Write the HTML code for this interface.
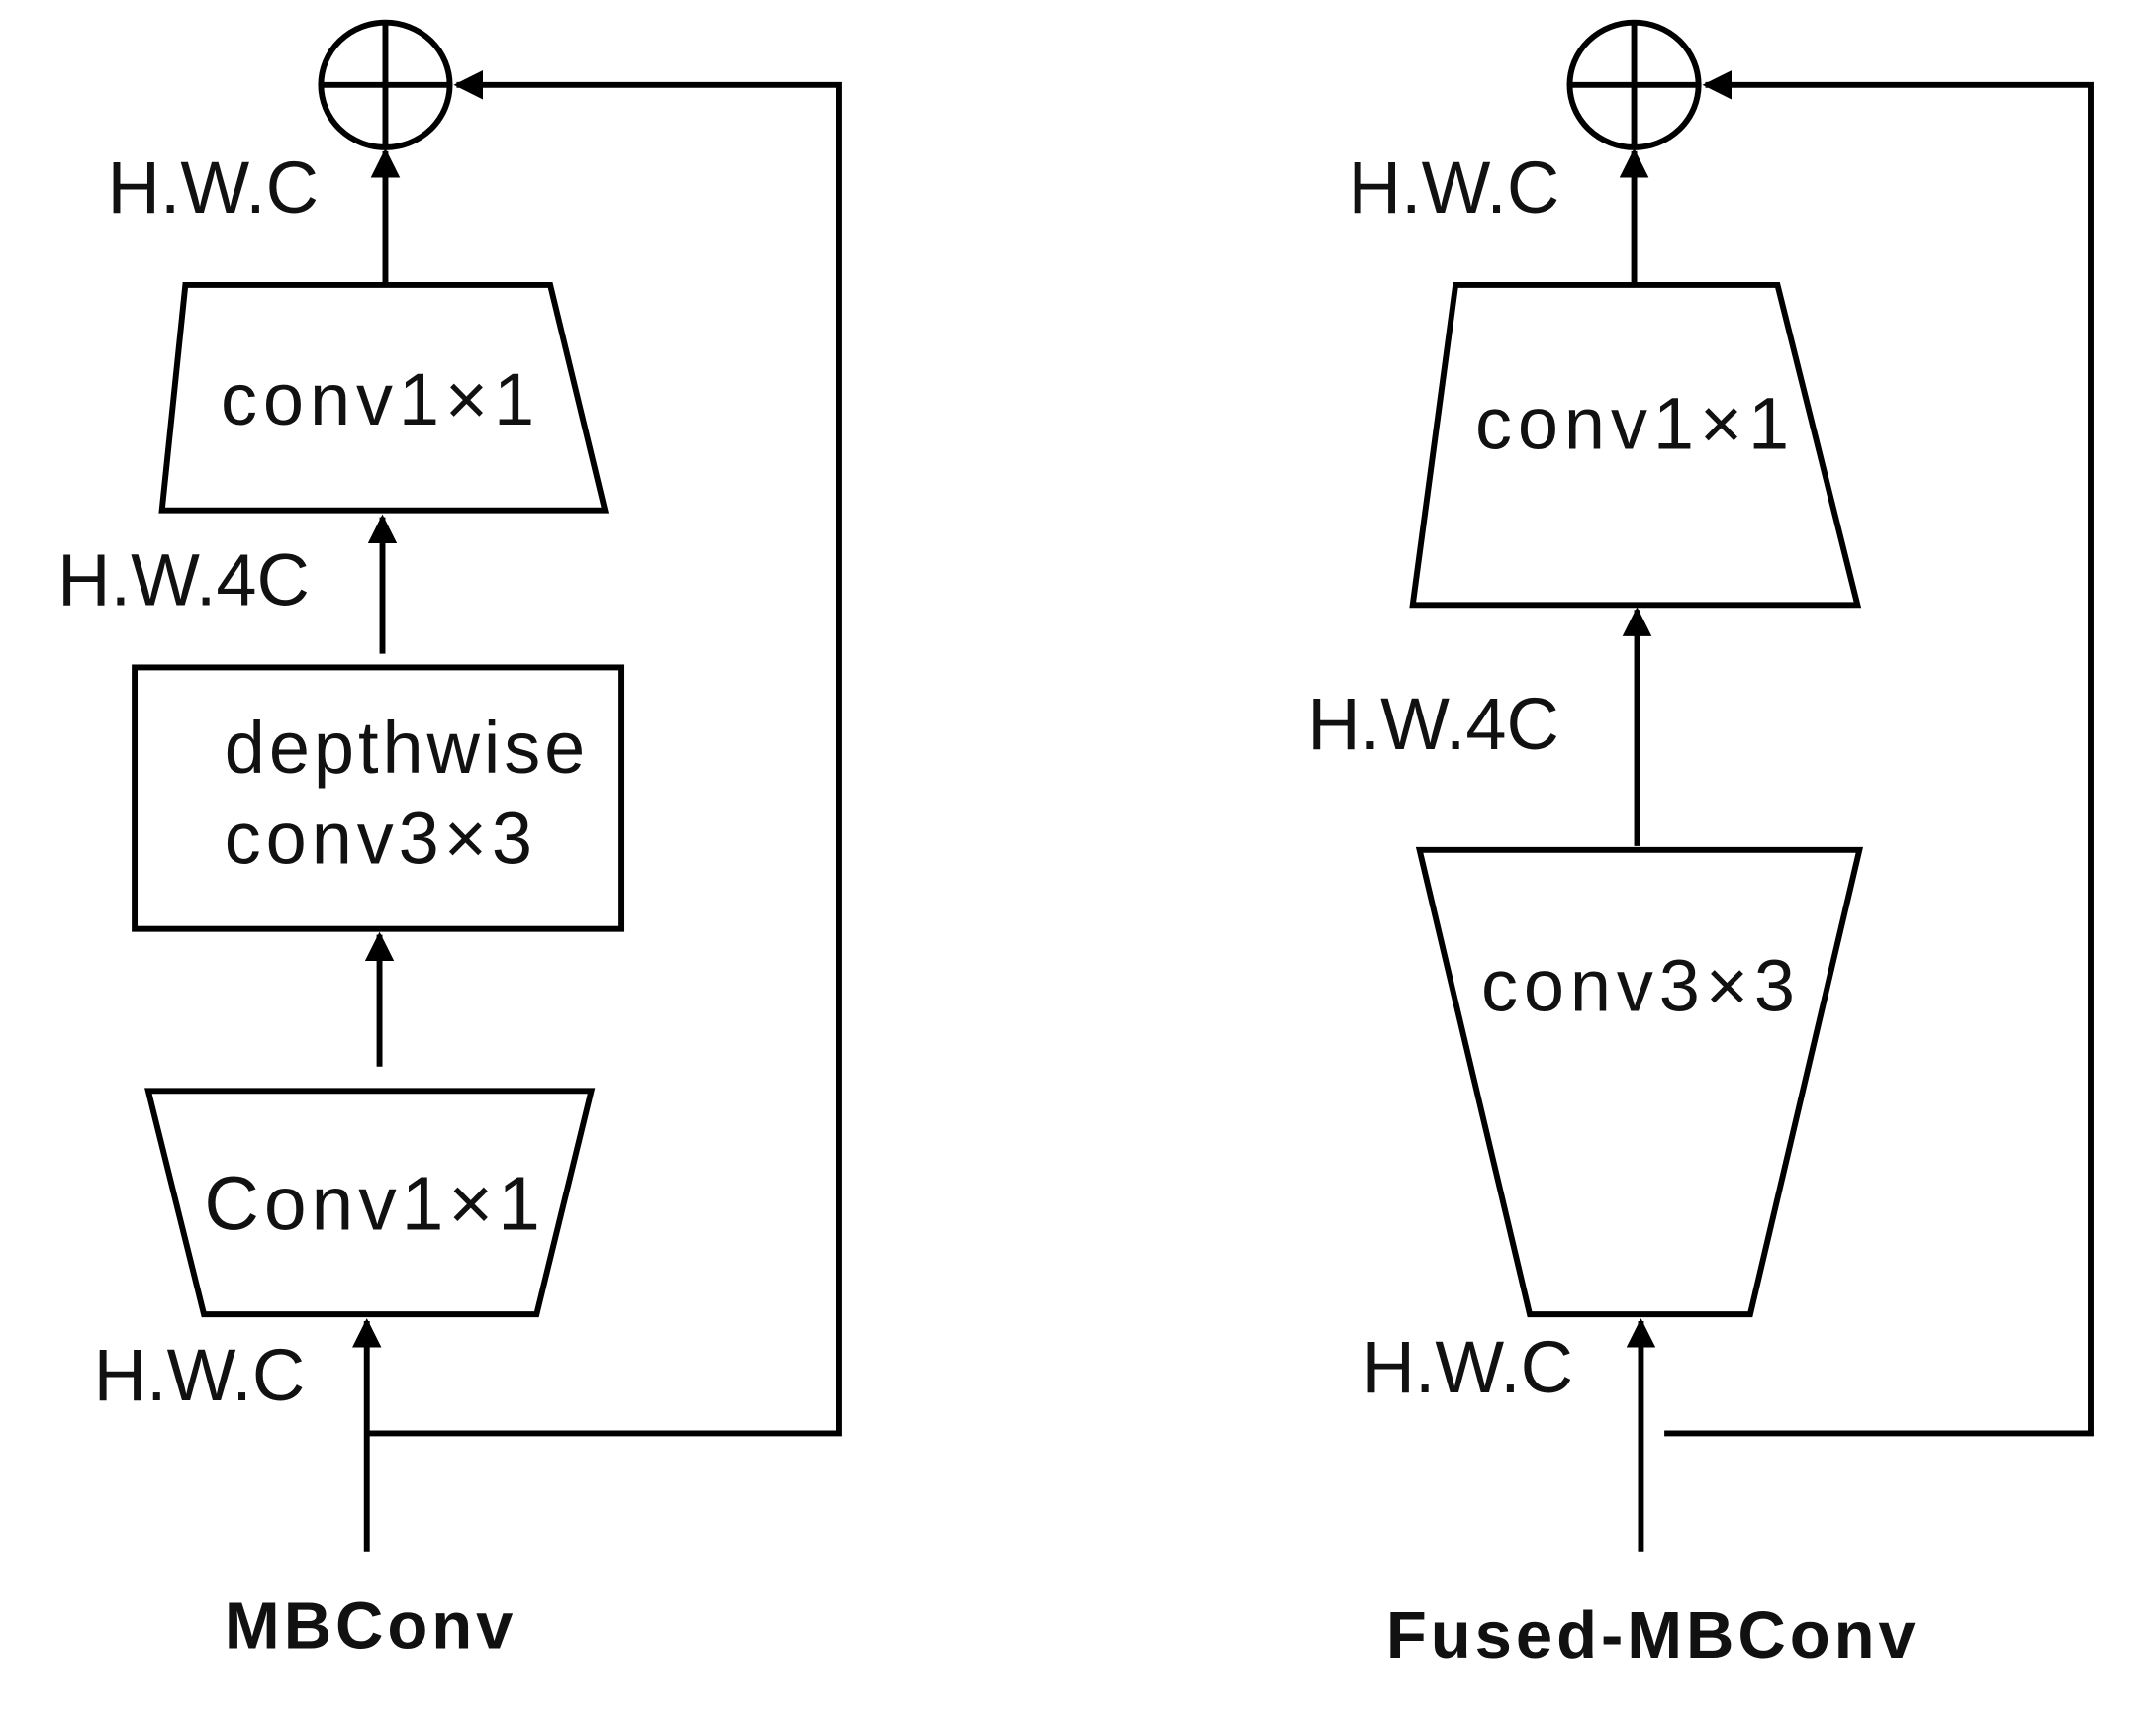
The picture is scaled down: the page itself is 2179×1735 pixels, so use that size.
<!DOCTYPE html>
<html><head><meta charset="utf-8"><style>
html,body{margin:0;padding:0;background:#fff}
svg{display:block}
text{font-family:"Liberation Sans",sans-serif;fill:#111}
</style></head><body>
<svg width="2179" height="1735" viewBox="0 0 2179 1735">
<defs>
<marker id="a" markerWidth="5" markerHeight="5" refX="4.5" refY="2.5" orient="auto" markerUnits="strokeWidth">
<path d="M0,0 L5,2.5 L0,5 Z" fill="#000"/></marker>
</defs>
<g transform="scale(0.986)">
<g stroke="#000" stroke-width="6" fill="none">
<!-- Left -->
<ellipse cx="395" cy="87" rx="66" ry="64"/>
<line x1="395" y1="23" x2="395" y2="151"/>
<line x1="329" y1="87" x2="461" y2="87"/>
<polyline points="378,1469 860,1469 860,87 468,87" marker-end="url(#a)"/>
<line x1="395" y1="292" x2="395" y2="155" marker-end="url(#a)"/>
<polygon points="190,292 564,292 620,523 166,523"/>
<line x1="392" y1="670" x2="392" y2="530" marker-end="url(#a)"/>
<rect x="138" y="684" width="499" height="268"/>
<line x1="389" y1="1093" x2="389" y2="958" marker-end="url(#a)"/>
<polygon points="152,1118 606,1118 550,1347 209,1347"/>
<line x1="376" y1="1590" x2="376" y2="1354" marker-end="url(#a)"/>
<!-- Right -->
<ellipse cx="1675" cy="87" rx="66" ry="64"/>
<line x1="1675" y1="23" x2="1675" y2="151"/>
<line x1="1609" y1="87" x2="1741" y2="87"/>
<polyline points="1706,1469 2143,1469 2143,87 1748,87" marker-end="url(#a)"/>
<line x1="1675" y1="292" x2="1675" y2="155" marker-end="url(#a)"/>
<polygon points="1492,292 1822,292 1904,620 1448,620"/>
<line x1="1678" y1="867" x2="1678" y2="625" marker-end="url(#a)"/>
<polygon points="1455,871 1906,871 1794,1347 1568,1347"/>
<line x1="1682" y1="1590" x2="1682" y2="1354" marker-end="url(#a)"/>
</g>
<g font-size="75">
<text x="110" y="218">H.W.C</text>
<text x="390" y="435" text-anchor="middle" letter-spacing="6">conv1×1</text>
<text x="59" y="620">H.W.4C</text>
<text x="230" y="792" letter-spacing="4">depthwise</text>
<text x="230" y="885" letter-spacing="5">conv3×3</text>
<text x="384" y="1260" text-anchor="middle" font-size="78" letter-spacing="5">Conv1×1</text>
<text x="96" y="1435">H.W.C</text>
<text x="1382" y="218">H.W.C</text>
<text x="1676" y="460" text-anchor="middle" letter-spacing="6">conv1×1</text>
<text x="1340" y="768">H.W.4C</text>
<text x="1682" y="1036" text-anchor="middle" letter-spacing="6">conv3×3</text>
<text x="1396" y="1427">H.W.C</text>
</g>
<text x="380" y="1689" text-anchor="middle" font-size="68" font-weight="bold" letter-spacing="4">MBConv</text>
<text x="1694" y="1699" text-anchor="middle" font-size="68" font-weight="bold" letter-spacing="4">Fused-MBConv</text>
</g>
</svg>
</body></html>
